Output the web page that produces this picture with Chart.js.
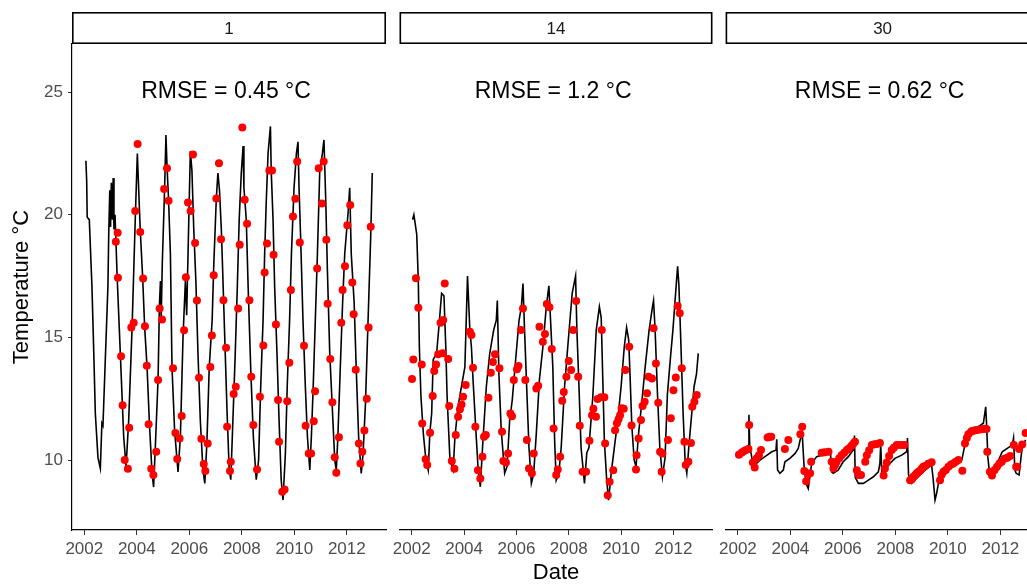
<!DOCTYPE html>
<html>
<head>
<meta charset="utf-8">
<script src="https://cdn.jsdelivr.net/npm/chart.js@4.4.0/dist/chart.umd.min.js"></script>
<style>
html, body { margin: 0; padding: 0; background: #fff; overflow: hidden; width: 1027px; height: 584px; }
canvas { position: absolute; top: 0; }
</style>
</head>
<body>
<canvas id="p1" width="392" height="584" style="left:0px"></canvas>
<canvas id="p2" width="328" height="584" style="left:392px"></canvas>
<canvas id="p3" width="340" height="584" style="left:716px"></canvas>
<script>
// facet labels and fit text
var panelNames = ['1', '14', '30'];
var rmseText = ['RMSE = 0.45 °C', 'RMSE = 1.2 °C', 'RMSE = 0.62 °C'];
var xTicks = [2002, 2004, 2006, 2008, 2010, 2012];
var yTicks = [10, 15, 20, 25];

// panel 1 : modelled line
var lineYears1 = [2002.06, 2002.09, 2002.11, 2002.19, 2002.29, 2002.36, 2002.42, 2002.52, 2002.61, 2002.67, 2002.71, 2002.8, 2002.9, 2002.93, 2002.97, 2003.0, 2003.03, 2003.07, 2003.1, 2003.13, 2003.17, 2003.25, 2003.37, 2003.5, 2003.59, 2003.69, 2003.82, 2003.94, 2004.02, 2004.13, 2004.22, 2004.3, 2004.39, 2004.48, 2004.58, 2004.64, 2004.7, 2004.81, 2004.86, 2004.9, 2004.93, 2004.97, 2005.06, 2005.11, 2005.15, 2005.21, 2005.28, 2005.34, 2005.44, 2005.57, 2005.66, 2005.76, 2005.85, 2005.9, 2005.98, 2006.04, 2006.1, 2006.17, 2006.25, 2006.33, 2006.42, 2006.52, 2006.59, 2006.67, 2006.76, 2006.87, 2006.93, 2007.03, 2007.09, 2007.15, 2007.22, 2007.27, 2007.35, 2007.44, 2007.52, 2007.58, 2007.66, 2007.75, 2007.83, 2007.9, 2007.98, 2008.05, 2008.08, 2008.17, 2008.24, 2008.34, 2008.44, 2008.55, 2008.64, 2008.72, 2008.81, 2008.87, 2008.93, 2009.0, 2009.09, 2009.12, 2009.19, 2009.25, 2009.34, 2009.42, 2009.5, 2009.57, 2009.66, 2009.73, 2009.82, 2009.89, 2009.99, 2010.08, 2010.14, 2010.18, 2010.24, 2010.33, 2010.42, 2010.5, 2010.59, 2010.65, 2010.72, 2010.8, 2010.88, 2010.97, 2011.07, 2011.13, 2011.2, 2011.26, 2011.35, 2011.44, 2011.54, 2011.6, 2011.66, 2011.75, 2011.84, 2011.92, 2012.05, 2012.11, 2012.17, 2012.28, 2012.36, 2012.45, 2012.55, 2012.62, 2012.71, 2012.81, 2012.91, 2012.97];
var lineTemps1 = [22.2, 21.4, 19.9, 19.8, 17.1, 14.4, 11.9, 10.1, 9.66, 11.5, 11.4, 14.1, 17.1, 19.2, 21.0, 19.5, 21.3, 19.8, 21.5, 19.4, 20.0, 17.5, 14.4, 10.95, 9.73, 11.6, 15.4, 19.8, 22.5, 19.4, 17.5, 15.4, 13.8, 11.5, 9.47, 8.9, 10.4, 13.3, 16.25, 17.3, 15.8, 18.0, 21.1, 23.25, 22.0, 20.6, 18.4, 13.8, 11.2, 9.52, 10.95, 15.0, 17.3, 15.9, 19.8, 22.6, 21.8, 19.4, 17.3, 14.35, 11.6, 9.6, 9.05, 10.7, 13.8, 15.7, 17.9, 20.7, 21.7, 21.0, 19.4, 17.75, 15.0, 11.9, 9.6, 9.2, 11.6, 14.35, 17.1, 19.8, 21.7, 22.8, 21.1, 19.8, 17.1, 13.7, 10.95, 9.2, 10.0, 13.0, 15.7, 18.4, 20.5, 22.5, 23.6, 21.8, 19.8, 17.1, 14.35, 11.6, 9.2, 8.37, 10.27, 13.0, 15.7, 18.4, 21.1, 22.5, 22.97, 21.1, 19.1, 15.7, 13.0, 10.95, 9.6, 10.95, 13.0, 15.7, 18.4, 21.8, 22.5, 23.05, 20.5, 17.75, 14.35, 12.3, 10.0, 9.6, 10.95, 13.7, 16.4, 18.4, 20.1, 21.1, 18.4, 16.4, 13.7, 10.95, 9.46, 10.27, 12.3, 15.7, 19.1, 21.7];
// panel 1 : observations
var obsYears1 = [2003.2, 2003.27, 2003.28, 2003.4, 2003.46, 2003.54, 2003.66, 2003.71, 2003.79, 2003.88, 2003.94, 2004.03, 2004.13, 2004.24, 2004.31, 2004.38, 2004.45, 2004.55, 2004.63, 2004.74, 2004.81, 2004.87, 2004.96, 2005.04, 2005.15, 2005.21, 2005.38, 2005.47, 2005.54, 2005.63, 2005.71, 2005.8, 2005.87, 2005.95, 2006.05, 2006.14, 2006.22, 2006.29, 2006.37, 2006.46, 2006.55, 2006.61, 2006.7, 2006.8, 2006.86, 2006.93, 2007.03, 2007.13, 2007.21, 2007.3, 2007.4, 2007.44, 2007.55, 2007.58, 2007.69, 2007.77, 2007.86, 2007.92, 2008.02, 2008.11, 2008.2, 2008.29, 2008.36, 2008.44, 2008.58, 2008.69, 2008.82, 2008.87, 2008.96, 2009.05, 2009.15, 2009.21, 2009.3, 2009.38, 2009.42, 2009.54, 2009.63, 2009.73, 2009.81, 2009.87, 2009.95, 2010.04, 2010.11, 2010.21, 2010.37, 2010.43, 2010.55, 2010.64, 2010.74, 2010.79, 2010.87, 2010.93, 2011.05, 2011.12, 2011.22, 2011.27, 2011.37, 2011.45, 2011.54, 2011.6, 2011.7, 2011.79, 2011.84, 2011.93, 2012.02, 2012.13, 2012.21, 2012.26, 2012.34, 2012.46, 2012.52, 2012.59, 2012.67, 2012.76, 2012.83, 2012.91];
var obsTemps1 = [18.9, 19.27, 17.43, 14.23, 12.23, 10.0, 9.65, 11.32, 15.4, 15.6, 20.15, 22.88, 19.3, 17.4, 15.46, 13.84, 11.46, 9.65, 9.39, 10.34, 13.26, 16.18, 15.73, 21.05, 21.9, 20.57, 13.74, 11.1, 10.04, 10.88, 11.8, 15.29, 17.45, 20.5, 20.15, 22.46, 18.85, 16.5, 13.36, 10.87, 9.84, 9.56, 10.68, 13.79, 15.08, 17.53, 20.66, 22.1, 19.0, 16.52, 14.58, 11.36, 9.56, 9.93, 12.69, 12.99, 16.18, 18.78, 23.56, 20.61, 19.63, 16.51, 13.4, 11.43, 9.62, 12.58, 14.67, 17.65, 18.83, 21.8, 21.8, 18.37, 15.53, 12.45, 10.75, 8.71, 8.8, 12.4, 13.97, 16.93, 19.93, 20.65, 22.17, 18.87, 14.66, 11.4, 10.27, 10.27, 11.58, 12.81, 17.81, 21.9, 20.46, 22.17, 18.98, 16.37, 14.12, 12.36, 10.12, 9.48, 10.93, 15.6, 16.93, 17.9, 19.57, 20.4, 17.24, 15.94, 13.68, 10.68, 9.86, 10.34, 11.21, 12.5, 15.4, 19.51];

// panel 14 : modelled line
var lineYears2 = [2002.03, 2002.08, 2002.19, 2002.25, 2002.29, 2002.35, 2002.44, 2002.54, 2002.63, 2002.69, 2002.76, 2002.82, 2002.95, 2003.05, 2003.14, 2003.23, 2003.3, 2003.35, 2003.46, 2003.58, 2003.65, 2003.77, 2003.9, 2004.03, 2004.13, 2004.22, 2004.28, 2004.34, 2004.45, 2004.53, 2004.62, 2004.72, 2004.85, 2004.98, 2005.13, 2005.23, 2005.27, 2005.33, 2005.42, 2005.55, 2005.64, 2005.74, 2005.84, 2005.97, 2006.1, 2006.19, 2006.25, 2006.31, 2006.38, 2006.48, 2006.57, 2006.66, 2006.76, 2006.88, 2007.01, 2007.14, 2007.24, 2007.29, 2007.39, 2007.46, 2007.52, 2007.62, 2007.71, 2007.84, 2007.96, 2008.13, 2008.26, 2008.31, 2008.38, 2008.47, 2008.6, 2008.69, 2008.77, 2008.92, 2009.05, 2009.17, 2009.24, 2009.3, 2009.36, 2009.45, 2009.52, 2009.62, 2009.74, 2009.87, 2010.0, 2010.12, 2010.21, 2010.29, 2010.34, 2010.41, 2010.5, 2010.57, 2010.67, 2010.8, 2010.92, 2011.07, 2011.2, 2011.24, 2011.3, 2011.39, 2011.48, 2011.58, 2011.68, 2011.77, 2011.9, 2011.98, 2012.09, 2012.16, 2012.21, 2012.28, 2012.37, 2012.45, 2012.51, 2012.6, 2012.7, 2012.79, 2012.88, 2012.95];
var lineTemps2 = [19.8, 20.0, 19.2, 17.3, 14.6, 12.6, 11.1, 10.0, 9.59, 11.1, 11.9, 14.1, 14.35, 15.6, 16.8, 16.7, 14.6, 12.6, 10.0, 9.59, 10.95, 12.2, 13.0, 13.8, 17.5, 15.3, 14.6, 13.3, 11.2, 9.73, 8.91, 10.8, 13.0, 14.35, 15.3, 15.7, 16.5, 13.5, 11.2, 9.46, 9.73, 11.6, 12.45, 14.1, 15.7, 16.25, 17.2, 15.3, 13.3, 10.5, 9.05, 9.46, 11.1, 13.3, 14.6, 16.25, 17.1, 16.0, 13.8, 10.8, 9.18, 9.46, 10.5, 13.0, 14.6, 16.8, 17.5, 15.3, 13.3, 10.5, 9.05, 10.3, 10.5, 12.6, 15.3, 16.25, 15.8, 13.3, 10.8, 9.18, 8.37, 9.46, 10.5, 11.6, 13.0, 14.6, 15.4, 14.9, 13.5, 11.4, 10.0, 9.73, 11.1, 12.45, 13.8, 15.3, 16.25, 16.5, 15.3, 12.7, 10.5, 9.32, 10.1, 12.7, 14.35, 15.3, 16.9, 17.9, 17.1, 14.9, 11.9, 9.86, 9.46, 10.7, 11.9, 13.0, 13.5, 14.35];
// panel 14 : observations
var obsYears2 = [2002.01, 2002.06, 2002.16, 2002.25, 2002.38, 2002.4, 2002.53, 2002.59, 2002.7, 2002.8, 2002.86, 2002.93, 2003.01, 2003.1, 2003.18, 2003.2, 2003.26, 2003.39, 2003.43, 2003.53, 2003.63, 2003.68, 2003.77, 2003.84, 2003.9, 2003.96, 2004.06, 2004.22, 2004.28, 2004.34, 2004.43, 2004.53, 2004.62, 2004.7, 2004.76, 2004.83, 2004.93, 2005.02, 2005.1, 2005.18, 2005.35, 2005.45, 2005.5, 2005.6, 2005.68, 2005.77, 2005.83, 2005.9, 2006.02, 2006.08, 2006.17, 2006.25, 2006.34, 2006.4, 2006.48, 2006.59, 2006.66, 2006.76, 2006.83, 2006.88, 2007.01, 2007.09, 2007.16, 2007.26, 2007.35, 2007.42, 2007.52, 2007.58, 2007.67, 2007.75, 2007.81, 2007.91, 2008.0, 2008.09, 2008.17, 2008.28, 2008.36, 2008.42, 2008.53, 2008.66, 2008.79, 2008.89, 2008.94, 2009.04, 2009.1, 2009.23, 2009.26, 2009.36, 2009.39, 2009.49, 2009.56, 2009.7, 2009.77, 2009.84, 2009.9, 2009.96, 2010.02, 2010.1, 2010.16, 2010.31, 2010.4, 2010.57, 2010.59, 2010.67, 2010.76, 2010.82, 2010.9, 2010.99, 2011.05, 2011.18, 2011.24, 2011.33, 2011.42, 2011.49, 2011.55, 2011.58, 2011.79, 2011.9, 2012.0, 2012.09, 2012.16, 2012.24, 2012.32, 2012.42, 2012.47, 2012.57, 2012.67, 2012.72, 2012.8, 2012.89];
var obsTemps2 = [13.31, 14.1, 17.41, 16.21, 13.9, 11.49, 10.03, 9.8, 11.11, 12.61, 13.63, 13.9, 14.31, 15.6, 14.35, 15.71, 17.2, 14.12, 12.2, 9.96, 9.65, 11.02, 11.77, 12.07, 12.27, 12.58, 13.06, 15.23, 15.1, 13.76, 11.36, 9.59, 9.25, 10.14, 10.95, 11.02, 12.54, 13.56, 14.0, 14.31, 13.74, 11.15, 9.96, 9.9, 10.27, 11.9, 11.79, 13.26, 13.7, 13.83, 15.3, 16.18, 13.26, 10.82, 9.66, 9.46, 10.27, 12.92, 13.03, 15.43, 14.82, 15.14, 16.36, 16.23, 14.53, 11.29, 9.39, 9.62, 10.14, 12.42, 12.78, 13.4, 14.04, 13.67, 15.3, 16.48, 13.4, 11.4, 9.52, 9.52, 10.79, 11.83, 12.09, 11.77, 12.49, 12.56, 15.3, 12.56, 10.68, 8.57, 9.12, 9.59, 11.22, 11.5, 11.66, 11.83, 12.11, 12.09, 13.67, 14.62, 11.41, 9.62, 10.2, 10.88, 11.63, 12.2, 12.38, 12.72, 13.4, 13.33, 15.37, 13.94, 12.34, 10.34, 9.52, 10.27, 10.82, 11.7, 12.85, 13.37, 16.28, 15.98, 13.74, 10.75, 9.8, 9.93, 10.7, 12.17, 12.38, 12.65];

// panel 30 : modelled line
var lineYears3 = [2002.0, 2002.27, 2002.4, 2002.42, 2002.45, 2002.55, 2002.65, 2002.84, 2003.03, 2003.29, 2003.45, 2003.48, 2003.51, 2003.6, 2003.73, 2003.79, 2003.98, 2004.18, 2004.3, 2004.37, 2004.45, 2004.49, 2004.53, 2004.62, 2004.68, 2004.81, 2005.0, 2005.19, 2005.51, 2005.53, 2005.57, 2005.63, 2005.82, 2006.01, 2006.21, 2006.34, 2006.42, 2006.44, 2006.47, 2006.59, 2006.78, 2006.97, 2007.16, 2007.35, 2007.41, 2007.44, 2007.48, 2007.6, 2007.79, 2007.98, 2008.24, 2008.43, 2008.46, 2008.5, 2008.62, 2008.87, 2009.13, 2009.38, 2009.44, 2009.51, 2009.57, 2009.66, 2009.89, 2010.27, 2010.53, 2010.63, 2010.68, 2010.84, 2011.16, 2011.35, 2011.44, 2011.48, 2011.52, 2011.6, 2011.67, 2011.87, 2012.07, 2012.26, 2012.45, 2012.5, 2012.55, 2012.6, 2012.71, 2012.83, 2012.96];
var lineTemps3 = [10.15, 10.34, 10.6, 11.85, 10.55, 10.0, 9.8, 10.0, 10.14, 10.34, 10.4, 10.85, 9.6, 9.46, 9.59, 9.93, 10.07, 10.27, 10.48, 10.82, 11.1, 10.3, 9.59, 8.98, 8.84, 9.86, 10.14, 10.2, 10.25, 10.2, 9.52, 9.46, 9.59, 9.93, 10.14, 10.34, 10.45, 11.0, 9.3, 9.05, 9.05, 9.18, 9.32, 9.52, 9.86, 10.65, 9.5, 9.59, 9.86, 10.07, 10.2, 10.34, 10.9, 9.4, 9.05, 9.32, 9.59, 9.8, 9.2, 8.37, 8.64, 9.18, 9.59, 9.86, 10.0, 10.54, 10.95, 11.29, 11.36, 11.5, 12.17, 11.3, 10.14, 9.32, 9.39, 9.86, 10.34, 10.48, 10.61, 10.9, 9.6, 9.46, 9.39, 10.54, 10.82];
// panel 30 : observations
var obsYears3 = [2002.04, 2002.14, 2002.22, 2002.31, 2002.4, 2002.43, 2002.57, 2002.64, 2002.72, 2002.8, 2002.88, 2003.13, 2003.2, 2003.27, 2003.79, 2003.92, 2004.38, 2004.45, 2004.53, 2004.6, 2004.66, 2004.75, 2004.79, 2005.19, 2005.3, 2005.45, 2005.57, 2005.64, 2005.7, 2005.76, 2005.86, 2005.95, 2006.05, 2006.15, 2006.24, 2006.33, 2006.4, 2006.46, 2006.53, 2006.6, 2006.69, 2006.85, 2006.91, 2007.0, 2007.1, 2007.2, 2007.3, 2007.41, 2007.55, 2007.6, 2007.67, 2007.76, 2007.86, 2007.94, 2008.05, 2008.18, 2008.3, 2008.34, 2008.56, 2008.62, 2008.68, 2008.75, 2008.81, 2008.88, 2008.94, 2009.0, 2009.06, 2009.13, 2009.25, 2009.38, 2009.7, 2009.76, 2009.83, 2009.92, 2010.02, 2010.12, 2010.21, 2010.3, 2010.4, 2010.55, 2010.65, 2010.72, 2010.78, 2010.88, 2010.97, 2011.06, 2011.16, 2011.28, 2011.39, 2011.47, 2011.5, 2011.6, 2011.68, 2011.78, 2011.87, 2011.96, 2012.05, 2012.15, 2012.26, 2012.37, 2012.51, 2012.6, 2012.64, 2012.71, 2012.83, 2012.96];
var obsTemps3 = [10.22, 10.3, 10.36, 10.41, 10.45, 11.43, 9.9, 9.7, 10.07, 10.2, 10.41, 10.92, 10.95, 10.95, 10.45, 10.82, 11.05, 11.36, 9.56, 9.14, 9.42, 9.46, 9.93, 10.3, 10.32, 10.34, 9.93, 9.66, 9.8, 9.93, 10.07, 10.2, 10.3, 10.41, 10.48, 10.58, 10.68, 10.75, 9.59, 9.39, 9.39, 9.93, 10.2, 10.4, 10.61, 10.65, 10.66, 10.7, 9.37, 9.66, 9.9, 10.17, 10.41, 10.5, 10.61, 10.61, 10.61, 10.61, 9.18, 9.21, 9.32, 9.38, 9.46, 9.52, 9.57, 9.65, 9.73, 9.76, 9.85, 9.91, 9.18, 9.4, 9.52, 9.6, 9.73, 9.82, 9.86, 9.93, 10.0, 9.57, 10.68, 10.9, 11.05, 11.15, 11.2, 11.22, 11.24, 11.26, 11.28, 11.27, 10.34, 9.52, 9.37, 9.6, 9.73, 9.86, 9.93, 10.05, 10.1, 10.17, 10.61, 9.73, 9.73, 10.45, 10.64, 11.1];

var xMin = 2001.531, xMax = 2013.493;
var yMin = 7.15, yMax = 26.96;
var fontFamily = '"Liberation Sans", Arial, sans-serif';

Chart.defaults.font.family = fontFamily;
Chart.defaults.animation = false;

function pairs(xs, ys) {
    return xs.map(function(x, i) { return { x: x, y: ys[i] }; });
}

function makePanel(canvasId, idx, lineYears, lineTemps, obsYears, obsTemps, opts) {
    var decor = {
        id: 'decor' + idx,
        afterDraw: function(chart) {
            var ctx = chart.ctx;
            var a = chart.chartArea;
            // facet strip
            ctx.save();
            ctx.fillStyle = '#ffffff';
            ctx.fillRect(a.left, 12, a.right - a.left, 32);
            ctx.strokeStyle = '#000000';
            ctx.lineWidth = 1.6;
            ctx.strokeRect(a.left + 0.8, 12.8, a.right - a.left - 1.6, 30.4);
            ctx.fillStyle = '#1A1A1A';
            ctx.font = '17px ' + fontFamily;
            ctx.textAlign = 'center';
            ctx.textBaseline = 'middle';
            ctx.fillText(panelNames[idx], (a.left + a.right) / 2, 29);
            // RMSE annotation
            ctx.fillStyle = '#000000';
            ctx.font = '23px ' + fontFamily;
            ctx.fillText(rmseText[idx], chart.scales.x.getPixelForValue(2007.4), chart.scales.y.getPixelForValue(25));
            ctx.restore();
        }
    };

    var xScale = {
        type: 'linear',
        min: xMin,
        max: xMax,
        afterBuildTicks: function(s) { s.ticks = xTicks.map(function(v) { return { value: v }; }); },
        afterFit: function(s) { s.height = 54; s.paddingLeft = 0; s.paddingRight = 0; },
        ticks: {
            color: '#4D4D4D',
            font: { size: 17 },
            padding: 4,
            maxRotation: 0,
            autoSkip: false,
            callback: function(v) { return String(v); }
        },
        grid: { drawOnChartArea: false, drawTicks: true, tickLength: 5, color: '#333333', lineWidth: 1 },
        border: { display: true, color: '#000000', width: 1.2 },
        title: {
            display: !!opts.xTitle,
            text: 'Date',
            color: '#000000',
            font: { size: 22 },
            padding: { top: 0, bottom: -2 }
        }
    };

    var yScale = {
        type: 'linear',
        display: !!opts.showY,
        min: yMin,
        max: yMax,
        afterBuildTicks: function(s) { s.ticks = yTicks.map(function(v) { return { value: v }; }); },
        afterFit: function(s) { if (opts.showY) { s.width = 72; } s.paddingTop = 0; s.paddingBottom = 0; },
        ticks: { color: '#4D4D4D', font: { size: 17 }, padding: 5 },
        grid: { drawOnChartArea: false, drawTicks: true, tickLength: 4, color: '#333333', lineWidth: 1 },
        border: { display: true, color: '#000000', width: 1.2 },
        title: {
            display: true,
            text: 'Temperature °C',
            color: '#000000',
            font: { size: 22 },
            padding: { top: 9, bottom: 0 }
        }
    };

    return new Chart(document.getElementById(canvasId), {
        type: 'scatter',
        data: {
            datasets: [{
                label: 'observed',
                data: pairs(obsYears, obsTemps),
                backgroundColor: '#FF0000',
                borderWidth: 0,
                pointRadius: 4,
                order: 0
            }, {
                label: 'modelled',
                data: pairs(lineYears, lineTemps),
                showLine: true,
                borderColor: '#000000',
                borderWidth: 1.6,
                pointRadius: 0,
                tension: 0,
                order: 1
            }]
        },
        options: {
            responsive: false,
            maintainAspectRatio: false,
            events: [],
            layout: { padding: opts.padding },
            plugins: { legend: { display: false }, tooltip: { enabled: false } },
            scales: { x: xScale, y: yScale }
        },
        plugins: [decor]
    });
}

makePanel('p1', 0, lineYears1, lineTemps1, obsYears1, obsTemps1,
    { showY: true, padding: { top: 44, left: 0, right: 6, bottom: 0 } });
makePanel('p2', 1, lineYears2, lineTemps2, obsYears2, obsTemps2,
    { xTitle: true, padding: { top: 44, left: 7.5, right: 7.5, bottom: 0 } });
makePanel('p3', 2, lineYears3, lineTemps3, obsYears3, obsTemps3,
    { padding: { top: 44, left: 9.6, right: 16.4, bottom: 0 } });
</script>
</body>
</html>
